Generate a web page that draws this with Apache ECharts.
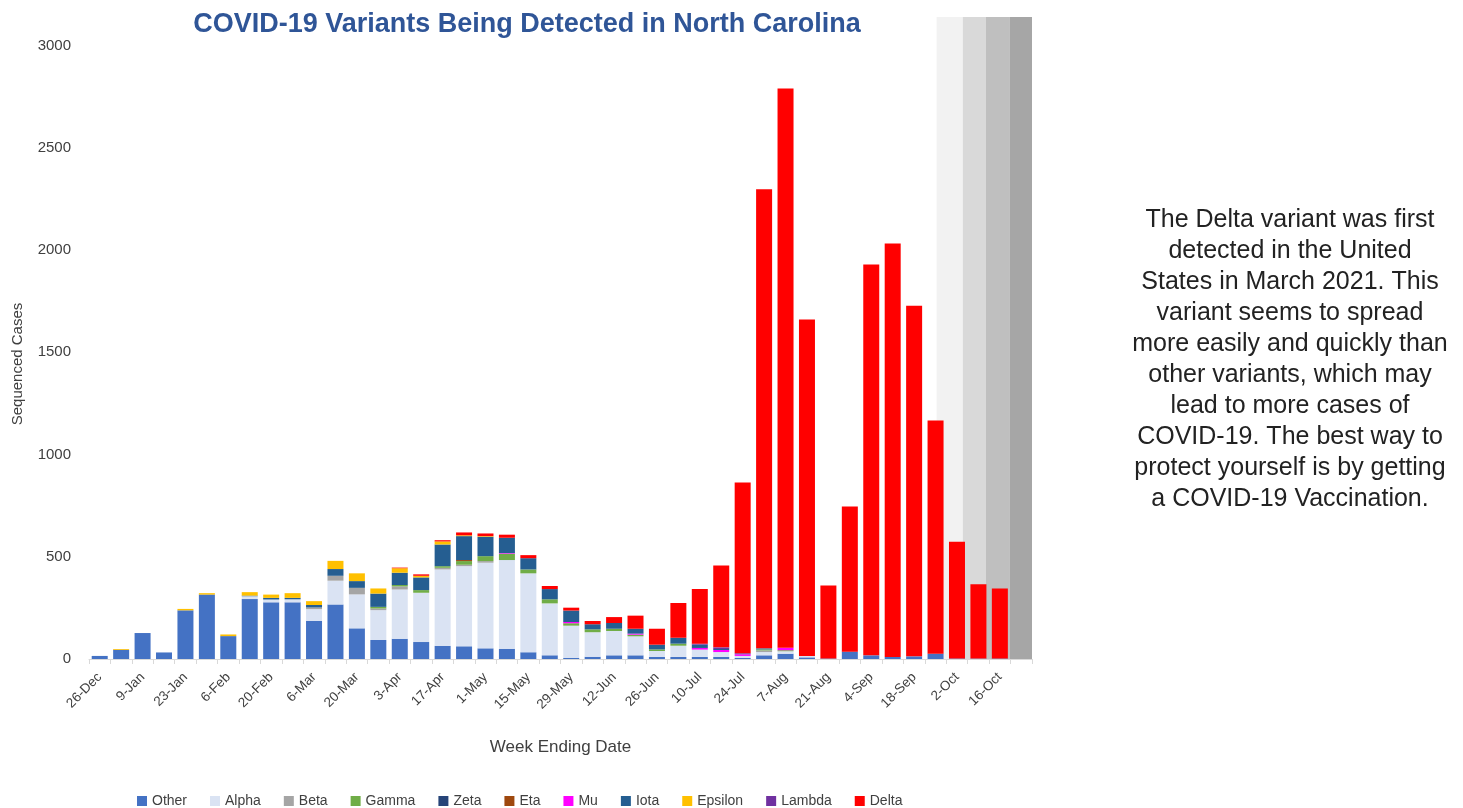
<!DOCTYPE html>
<html>
<head>
<meta charset="utf-8">
<script src="https://cdn.jsdelivr.net/npm/echarts@6/dist/echarts.min.js"></script>
<style>
  html, body { margin: 0; padding: 0; background: #ffffff; }
  #chart { width: 1463px; height: 808px; }
</style>
</head>
<body>
<div id="chart"></div>
<script>
const categories = ['26-Dec','2-Jan','9-Jan','16-Jan','23-Jan','30-Jan','6-Feb','13-Feb','20-Feb','27-Feb',
  '6-Mar','13-Mar','20-Mar','27-Mar','3-Apr','10-Apr','17-Apr','24-Apr','1-May','8-May',
  '15-May','22-May','29-May','5-Jun','12-Jun','19-Jun','26-Jun','3-Jul','10-Jul','17-Jul',
  '24-Jul','31-Jul','7-Aug','14-Aug','21-Aug','28-Aug','4-Sep','11-Sep','18-Sep','25-Sep',
  '2-Oct','9-Oct','16-Oct','23-Oct'];

const other   = [15,45,127,32,238,315,112,293,277,277, 186,267,150,93,99,83,64,62,52,50, 33,18,5,11,18,18,10,10,10,10, 5,18,26,8,3,36,18,10,13,26, 3,2,2,0];
const alpha   = [0,0,0,0,0,0,0,14,14,15, 58,116,166,146,241,241,374,392,419,434, 386,254,158,120,119,93,29,55,36,24, 10,16,12,7,0,0,0,0,0,0, 0,0,0,0];
const beta    = [0,0,0,0,0,0,0,0,0,0, 8,24,32,8,15,0,8,7,8,0, 0,0,0,0,0,0,0,0,0,0, 0,8,0,0,0,0,0,0,0,0, 0,0,0,0];
const gamma   = [0,0,0,0,0,0,0,0,0,0, 0,0,0,8,7,13,8,18,24,31, 19,20,12,14,11,8,8,10,0,0, 0,5,5,0,0,0,0,0,0,0, 0,0,0,0];
const zeta    = [0,0,0,0,0,0,0,0,0,0, 0,0,0,0,0,0,0,0,0,0, 0,0,0,0,0,0,0,0,0,0, 0,0,0,0,0,0,0,0,0,0, 0,0,0,0];
const eta     = [0,0,0,0,0,0,0,0,0,0, 0,0,0,0,0,0,0,5,0,0, 0,0,0,0,0,0,0,0,0,0, 0,0,0,0,0,0,0,0,0,0, 0,0,0,0];
const mu      = [0,0,0,0,0,0,0,0,0,0, 0,0,0,0,0,0,0,0,0,3, 0,0,6,0,0,5,0,0,8,10, 8,0,12,0,0,0,0,0,0,0, 0,0,0,0];
const iota    = [0,0,0,0,0,0,0,3,8,7, 12,33,33,65,60,62,106,117,95,75, 55,50,56,25,28,24,23,29,16,5, 0,5,0,0,0,0,0,0,0,0, 0,0,0,0];
const epsilon = [0,4,0,0,7,7,8,17,16,23, 19,40,38,25,22,8,15,4,3,0, 0,0,0,0,0,0,0,0,0,0, 0,0,0,0,0,0,0,0,0,0, 0,0,0,0];
const lambda  = [0,0,0,0,0,0,0,0,0,0, 0,0,0,0,0,0,0,0,0,0, 0,0,0,0,0,0,0,0,5,8, 5,0,0,0,0,0,0,0,0,0, 0,0,0,0];
const delta   = [0,0,0,0,0,0,0,0,0,0, 0,0,0,0,3,7,6,14,13,15, 15,15,14,16,29,64,78,170,267,400, 835,2245,2735,1645,357,710,1912,2022,1715,1140, 570,363,343,0];

const seriesNames  = ['Other','Alpha','Beta','Gamma','Zeta','Eta','Mu','Iota','Epsilon','Lambda','Delta'];
const seriesData   = [other, alpha, beta, gamma, zeta, eta, mu, iota, epsilon, lambda, delta];
const seriesColors = ['#4472c4','#dae3f3','#a5a5a5','#70ad47','#264478','#9e480e','#ff00ff','#255e91','#ffc000','#7030a0','#ff0000'];

const yTicks = [0, 500, 1000, 1500, 2000, 2500, 3000];
const yMax = 3140;

// shaded projection bands (category-unit boundaries) and shades
const bandStarts = [39.55, 40.77, 41.85, 42.97];
const bandEnds   = [40.77, 41.85, 42.97, 44];
const bandColors = ['#f2f2f2', '#d9d9d9', '#bfbfbf', '#a6a6a6'];

const noteLines = [
  'The Delta variant was first',
  'detected in the United',
  'States in March 2021. This',
  'variant seems to spread',
  'more easily and quickly than',
  'other variants, which may',
  'lead to more cases of',
  'COVID-19. The best way to',
  'protect yourself is by getting',
  'a COVID-19 Vaccination.'
];

const FONT = 'Liberation Sans, Arial, sans-serif';
const chart = echarts.init(document.getElementById('chart'), null, { renderer: 'canvas' });

const barSeries = seriesNames.map((name, i) => ({
  name: name,
  type: 'bar',
  stack: 'total',
  barWidth: 16,
  z: 3,
  itemStyle: { color: seriesColors[i] },
  emphasis: { disabled: true },
  data: seriesData[i].map(v => v === 0 ? null : v)
}));

const bandSeries = {
  type: 'custom',
  name: 'bands',
  xAxisIndex: 1,
  yAxisIndex: 0,
  z: 1,
  silent: true,
  data: bandStarts.map((s, i) => [s, bandEnds[i], i]),
  renderItem: function (params, api) {
    const p0 = api.coord([api.value(0), yMax]);
    const p1 = api.coord([api.value(1), 0]);
    return {
      type: 'rect',
      shape: { x: p0[0], y: p0[1], width: p1[0] - p0[0], height: p1[1] - p0[1] },
      style: { fill: bandColors[api.value(2)] }
    };
  }
};

chart.setOption({
  animation: false,
  backgroundColor: '#ffffff',
  title: {
    text: 'COVID-19 Variants Being Detected in North Carolina',
    left: 522,
    textAlign: 'center',
    top: 6,
    textStyle: { fontFamily: FONT, fontSize: 27, fontWeight: 'bold', color: '#2f5597' }
  },
  legend: {
    data: seriesNames,
    left: 132,
    top: 789,
    itemWidth: 10,
    itemHeight: 10,
    itemGap: 23,
    icon: 'rect',
    textStyle: { fontFamily: FONT, fontSize: 14, color: '#404040' }
  },
  grid: { left: 89, top: 17, width: 943, height: 642, containLabel: false },
  xAxis: [
    {
      type: 'category',
      data: categories,
      name: 'Week Ending Date',
      nameLocation: 'middle',
      nameGap: 80,
      nameTextStyle: { fontFamily: FONT, fontSize: 17, color: '#404040' },
      axisLine: { lineStyle: { color: '#d9d9d9', width: 1 } },
      axisTick: { show: true, interval: 0, length: 5, lineStyle: { color: '#d9d9d9' } },
      axisLabel: {
        interval: 1,
        rotate: 45,
        margin: 16,
        fontFamily: FONT,
        fontSize: 13.5,
        color: '#404040'
      }
    },
    { type: 'value', min: 0, max: 44, show: false }
  ],
  yAxis: {
    type: 'value',
    min: 0,
    max: yMax,
    interval: 500,
    name: 'Sequenced Cases',
    nameLocation: 'middle',
    nameGap: 64,
    nameRotate: 90,
    nameTextStyle: { fontFamily: FONT, fontSize: 15, color: '#404040', padding: [0, 52, 0, 0] },
    axisLine: { show: false },
    axisTick: { show: false },
    splitLine: { show: false },
    axisLabel: {
      margin: 18,
      fontFamily: FONT,
      fontSize: 15,
      color: '#404040',
      formatter: v => (yTicks.indexOf(v) >= 0 ? String(v) : '')
    }
  },
  graphic: [{
    type: 'text',
    left: 1290 - 180,
    top: 205,
    style: {
      text: noteLines.join('\n'),
      width: 360,
      textAlign: 'center',
      fontFamily: FONT,
      fontSize: 25,
      lineHeight: 31,
      fill: '#222222'
    }
  }],
  series: [bandSeries].concat(barSeries)
});
</script>
</body>
</html>
